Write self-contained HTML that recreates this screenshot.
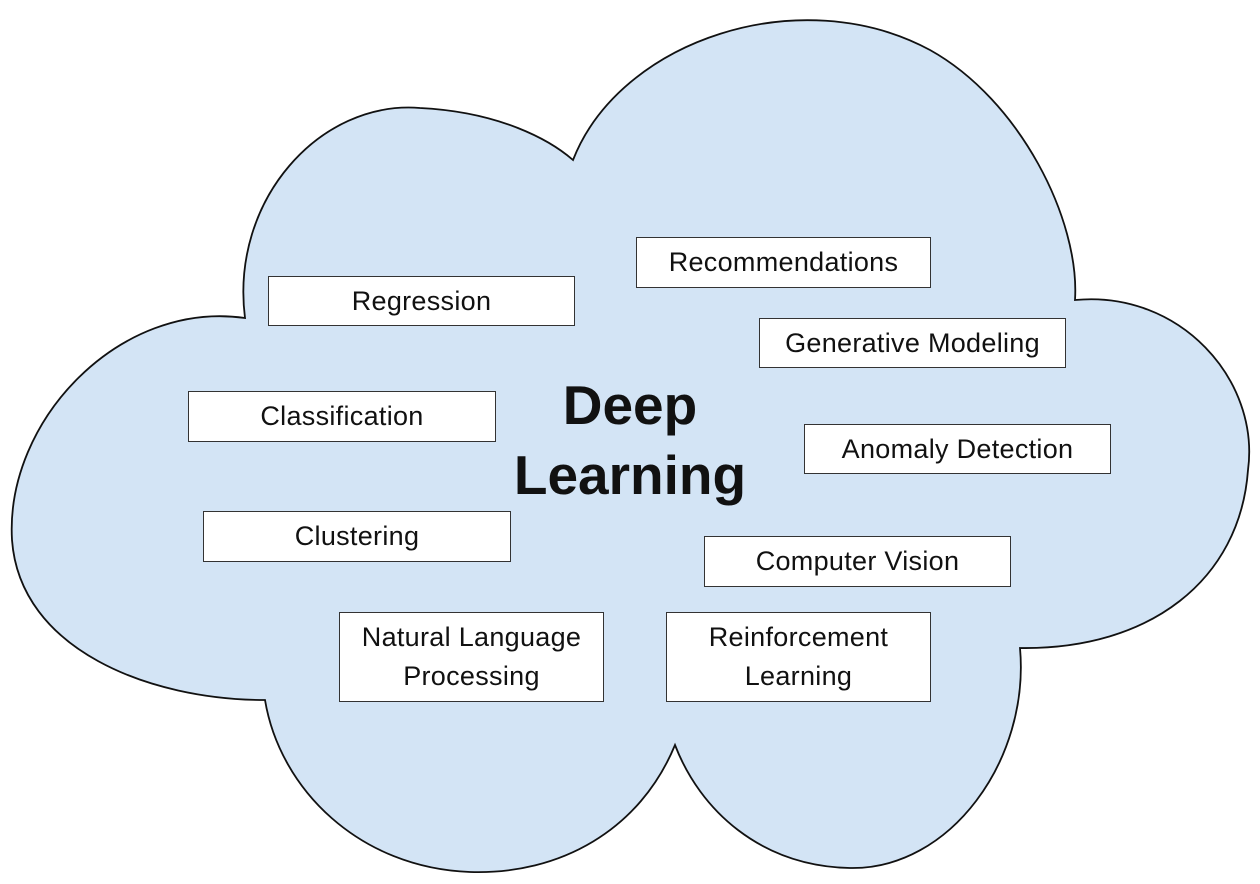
<!DOCTYPE html>
<html><head><meta charset="utf-8"><style>
body{margin:0;background:#fff;width:1260px;height:884px;overflow:hidden;position:relative;font-family:"Liberation Sans",sans-serif}
.b{position:absolute;background:#fff;border:1.5px solid #333;box-sizing:border-box;display:flex;align-items:center;justify-content:center;text-align:center;font-size:27px;letter-spacing:0.3px;color:#111;line-height:39px}
.t{position:absolute;font-weight:bold;font-size:55px;color:#111;text-align:center;width:400px;left:430px}
</style></head><body>
<svg width="1260" height="884" style="position:absolute;left:0;top:0">
<path d="M573,160 C620,40 800,-20 930,50 C1020,100 1080,220 1075,300 C1180,290 1260,380 1248,470 C1240,580 1150,650 1020,648 C1030,760 950,870 850,868 C760,866 700,810 675,745 C640,830 560,875 470,872 C360,868 280,790 265,700 C150,700 20,650 12,540 C5,420 120,300 245,318 C230,200 320,100 420,108 C500,112 550,140 573,160 Z" fill="#d3e4f5" stroke="#111" stroke-width="1.8"/>
</svg>
<div class="b" style="left:268px;top:276px;width:307px;height:50px">Regression</div>
<div class="b" style="left:636px;top:237px;width:295px;height:51px">Recommendations</div>
<div class="b" style="left:759px;top:318px;width:307px;height:50px">Generative Modeling</div>
<div class="b" style="left:188px;top:391px;width:308px;height:51px">Classification</div>
<div class="b" style="left:804px;top:424px;width:307px;height:50px">Anomaly Detection</div>
<div class="b" style="left:203px;top:511px;width:308px;height:51px">Clustering</div>
<div class="b" style="left:704px;top:536px;width:307px;height:51px">Computer Vision</div>
<div class="b" style="left:339px;top:612px;width:265px;height:90px">Natural Language<br>Processing</div>
<div class="b" style="left:666px;top:612px;width:265px;height:90px">Reinforcement<br>Learning</div>
<div class="t" style="top:373px">Deep</div>
<div class="t" style="top:443px">Learning</div>
</body></html>
